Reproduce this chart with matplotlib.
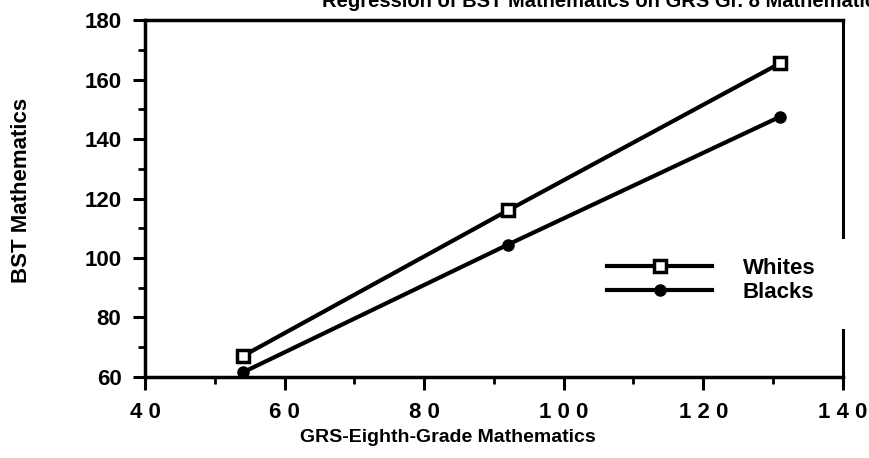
import matplotlib
matplotlib.use("Agg")
import matplotlib.pyplot as plt
from matplotlib.ticker import MultipleLocator, FuncFormatter

plt.rcParams["font.family"] = ["Liberation Sans", "DejaVu Sans"]

grs_math = [54, 92, 131]
whites = [67, 116, 165.5]
blacks = [61.5, 104.5, 147.5]
series_names = ["Whites", "Blacks"]

fig = plt.figure(figsize=(8.7, 4.58), dpi=100)
ax = fig.add_axes([0.1667, 0.177, 0.802, 0.779])

ax.plot(grs_math, whites, "-s", color="black", lw=3, ms=9,
        mfc="white", mec="black", mew=2.5, label=series_names[0])
ax.plot(grs_math, blacks, "-o", color="black", lw=3, ms=8,
        mfc="black", label=series_names[1])

ax.set_xlim(40, 140)
ax.set_ylim(60, 180)
ax.xaxis.set_major_locator(MultipleLocator(20))
ax.xaxis.set_minor_locator(MultipleLocator(10))
ax.yaxis.set_major_locator(MultipleLocator(20))
ax.yaxis.set_minor_locator(MultipleLocator(10))
# x tick numbers are printed letter-spaced in the original
ax.xaxis.set_major_formatter(FuncFormatter(lambda v, p: " ".join(str(int(v)))))

ax.tick_params(which="major", direction="out", length=9, width=2.2,
               labelsize=16, pad=8)
ax.tick_params(which="minor", direction="out", length=5, width=2)
ax.tick_params(axis="x", which="major", pad=9)
for lab in ax.get_xticklabels() + ax.get_yticklabels():
    lab.set_fontweight("bold")

for side in ["left", "bottom", "top"]:
    ax.spines[side].set_linewidth(2.5)
ax.spines["right"].set_visible(False)
# the right border is broken around the legend
ax.plot([1, 1], [0.392, 1], transform=ax.transAxes, color="black",
        lw=2.2, clip_on=False)
ax.plot([1, 1], [0, 0.132], transform=ax.transAxes, color="black",
        lw=2.2, clip_on=False)

ax.set_xlabel("GRS-Eighth-Grade Mathematics", fontsize=14, fontweight="bold")
ax.xaxis.set_label_coords(0.434, -0.147)
ax.set_ylabel("BST Mathematics", fontsize=16, fontweight="bold")
ax.yaxis.set_label_coords(-0.162, 0.524)

leg = ax.legend(loc="center left", bbox_to_anchor=(0.634, 0.27), frameon=False,
                handlelength=4.7, handletextpad=1.4, labelspacing=0.15,
                prop={"size": 16, "weight": "bold"})

fig.text(0.37, 0.985, "Regression of BST Mathematics on GRS Gr. 8 Mathematics",
         fontsize=14.5, fontweight="bold", va="baseline", ha="left")

fig.savefig("out.png", dpi=100)
